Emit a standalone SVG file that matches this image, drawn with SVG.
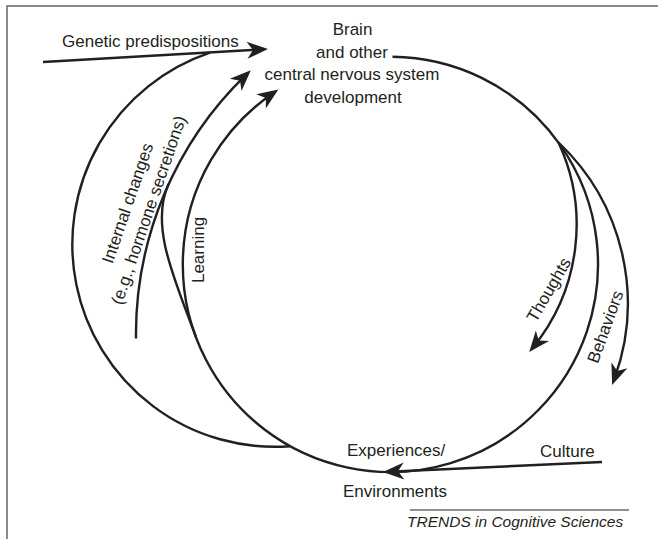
<svg xmlns="http://www.w3.org/2000/svg" width="658" height="539" viewBox="0 0 658 539">
  <style>
    .lbl { font-family: "Liberation Sans", Arial, sans-serif; font-size: 17px; fill: #231f20; }
    .conn { fill: none; stroke: #231f20; stroke-width: 2.4; }
    .arr { marker-end: url(#ah); }
    .frame { stroke: #666; stroke-width: 1.5; fill: none; }
    .credit { font-family: "Liberation Sans", Arial, sans-serif; font-size: 15.5px; font-style: italic; fill: #231f20; }
  </style>
  <defs>
    <marker id="ah" viewBox="-24 -10 26 20" refX="-6" refY="0" markerWidth="26" markerHeight="20" markerUnits="userSpaceOnUse" orient="auto">
      <path d="M0,0 L-21,-8.5 L-15,0 L-21,8.5 Z" fill="#231f20"/>
    </marker>
  </defs>
  <rect width="658" height="539" fill="#fff"/>
  <path class="frame" d="M7,539 V6 H658"/>

  <g id="connectors">
    <path id="main-cycle" class="conn arr" d="M392.5,56.8 A207.6,207.6 0 1,1 273.4,92.9"/>
    <path id="genetic" class="conn arr" d="M43,62 L262,49.4"/>
    <path id="outer-arc" class="conn" d="M290,446.2 A202.4,202.4 0 0,1 210,52.6"/>
    <path id="internal" class="conn arr" d="M136,338.5 A360.5,360.5 0 0,1 246.5,74.4"/>
    <path id="internal-branch" class="conn" d="M196,337 C173.2,276.2 150,225 168.5,184"/>
    <path id="thoughts" class="conn arr" d="M558.5,142.5 A194.8,194.8 0 0,1 533,347.4"/>
    <path id="behaviors" class="conn arr" d="M558.5,142.5 A221,221 0 0,1 614.2,379.4"/>
    <path id="culture" class="conn arr" d="M602,462 L389,471.7"/>
  </g>

  <g id="node-brain">
    <text class="lbl" text-anchor="middle" x="352.5" y="35">Brain</text>
    <text class="lbl" text-anchor="middle" x="352" y="57.5">and other</text>
    <text class="lbl" text-anchor="middle" x="352" y="80">central nervous system</text>
    <text class="lbl" text-anchor="middle" x="353" y="102.5">development</text>
  </g>
  <g id="node-genetic">
    <text class="lbl" x="62" y="46.5">Genetic predispositions</text>
  </g>
  <g id="node-internal">
    <text class="lbl" text-anchor="middle" transform="translate(133,205) rotate(-71)">Internal changes</text>
    <text class="lbl" text-anchor="middle" transform="translate(154,212) rotate(-71)">(e.g., hormone secretions)</text>
  </g>
  <g id="node-learning">
    <text class="lbl" text-anchor="middle" transform="translate(204,250) rotate(-90)">Learning</text>
  </g>
  <g id="node-thoughts">
    <text class="lbl" text-anchor="middle" transform="translate(553.8,292.5) rotate(-60)">Thoughts</text>
  </g>
  <g id="node-behaviors">
    <text class="lbl" text-anchor="middle" transform="translate(610.7,328.7) rotate(-70)">Behaviors</text>
  </g>
  <g id="node-experiences">
    <text class="lbl" x="347" y="456">Experiences/</text>
    <text class="lbl" x="343" y="497">Environments</text>
  </g>
  <g id="node-culture">
    <text class="lbl" x="540" y="456.5">Culture</text>
  </g>
  <g id="credit">
    <line x1="410" y1="510" x2="629" y2="510" stroke="#231f20" stroke-width="1"/>
    <text class="credit" x="407" y="527">TRENDS in Cognitive Sciences</text>
  </g>
</svg>
